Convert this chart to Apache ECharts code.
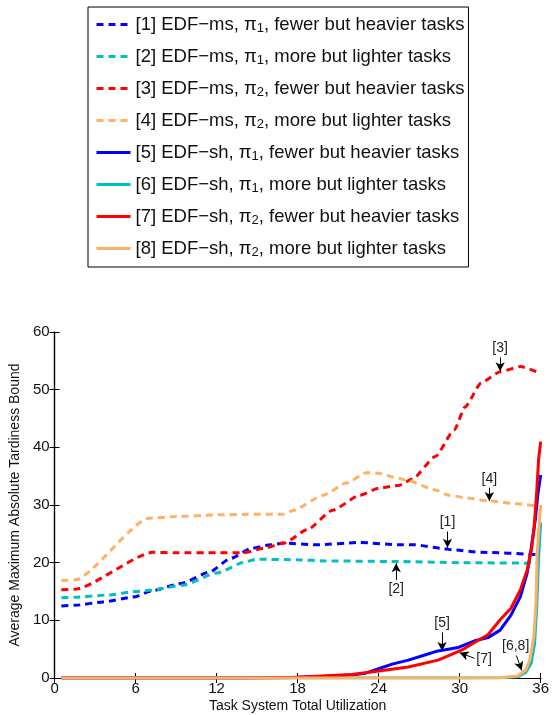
<!DOCTYPE html>
<html>
<head>
<meta charset="utf-8">
<script src="https://cdn.jsdelivr.net/npm/echarts@6/dist/echarts.min.js"></script>
<style>
  html, body { margin: 0; padding: 0; background: #fff; }
  #chart { width: 552px; height: 715px; }
</style>
</head>
<body>
<div id="chart"></div>
<script>
const FONT = 'Liberation Sans, Arial, Helvetica, sans-serif'

const seriesNames = [
  '[1] EDF−ms, π1, fewer but heavier tasks',
  '[2] EDF−ms, π1, more but lighter tasks',
  '[3] EDF−ms, π2, fewer but heavier tasks',
  '[4] EDF−ms, π2, more but lighter tasks',
  '[5] EDF−sh, π1, fewer but heavier tasks',
  '[6] EDF−sh, π1, more but lighter tasks',
  '[7] EDF−sh, π2, fewer but heavier tasks',
  '[8] EDF−sh, π2, more but lighter tasks'
]
const seriesColors = ['#0000ff', '#00bfbf', '#ff0000', '#ffb063', '#0000ff', '#00bfbf', '#ff0000', '#ffb063']

const xTicks = [0, 6, 12, 18, 24, 30, 36]
const yTicks = [0, 10, 20, 30, 40, 50, 60]

// EDF-ms (dashed)
const ms1X = [0.5, 1.5, 3.6, 6, 7, 9.4, 11.5, 13, 14.6, 16, 17, 19.4, 22.6, 25.5, 26.7, 28.6, 29.6, 31.6, 35.7]
const ms1Y = [12.5, 12.6, 13.2, 14.1, 15.0, 16.4, 18.4, 20.7, 22.5, 23.1, 23.4, 23.1, 23.5, 23.1, 23.1, 22.5, 22.2, 21.8, 21.4]
const ms2X = [0.5, 1.5, 4, 6, 7, 9.5, 12, 14.2, 15, 18, 20, 25.5, 30, 35.7]
const ms2Y = [13.9, 14.0, 14.4, 15.0, 15.2, 16.1, 18.2, 20.2, 20.6, 20.5, 20.3, 20.2, 20.0, 19.9]
const ms3X = [0.5, 1.5, 7.3, 9, 12, 14, 15.5, 17, 18.7, 20.6, 22.6, 24, 25.5, 26.5, 28.2, 29.6, 30.4, 31.6, 33, 34.5, 35.7]
const ms3Y = [15.3, 15.4, 21.8, 21.7, 21.7, 21.7, 22.5, 23.4, 25.7, 29.1, 31.7, 32.9, 33.4, 34.5, 38.4, 43.0, 47.0, 51.2, 53.1, 54.0, 53.1]
const ms4X = [0.5, 1.5, 7, 9, 12, 15, 17, 17.7, 19.9, 21.6, 23.1, 24, 25.5, 26.2, 28.2, 29.2, 30.6, 32.2, 34.3, 35.7]
const ms4Y = [16.9, 17.0, 27.7, 28.0, 28.3, 28.4, 28.4, 29.1, 31.7, 33.8, 35.6, 35.5, 34.6, 34.2, 32.6, 31.7, 31.2, 30.7, 30.2, 29.8]

// EDF-sh (solid)
const sh5X = [0.5, 14, 17, 20, 22, 23, 24, 25, 26.2, 27.3, 28.4, 29.9, 31.2, 32.1, 33.0, 33.8, 34.5, 35.0, 35.3, 35.6, 35.8, 36]
const sh5Y = [0, 0, 0.05, 0.3, 0.5, 0.8, 1.6, 2.4, 3.1, 3.9, 4.7, 5.3, 6.5, 7.0, 8.3, 10.9, 14.1, 18.2, 22.5, 27.4, 32.0, 35.2]
const sh6X = [0.5, 30, 33, 34.3, 34.9, 35.3, 35.55, 35.7, 35.85, 36]
const sh6Y = [0, 0, 0.05, 0.2, 1.0, 2.6, 6.0, 12.0, 21.0, 27.0]
const sh7X = [0.5, 14, 18, 22, 24, 26.2, 28.4, 29.5, 30.2, 31.2, 32.1, 33.0, 33.8, 34.5, 35.0, 35.3, 35.5, 35.7, 35.85, 36]
const sh7Y = [0, 0, 0.15, 0.6, 1.2, 1.9, 3.1, 4.2, 4.9, 6.3, 7.5, 10.1, 12.1, 15.3, 18.7, 22.0, 25.7, 32.0, 38.0, 41.0]
const sh8X = [0.5, 30, 33, 34.3, 34.9, 35.2, 35.5, 35.65, 35.75, 36]
const sh8Y = [0, 0, 0.05, 0.35, 1.4, 3.1, 7.2, 13.0, 22.0, 30.0]

// annotations: label, arrow tail [x, y], arrow tip [x, y]
const noteLabels = ['[3]', '[4]', '[1]', '[2]', '[5]', '[7]', '[6,8]']
const noteTails = [[33.0, 55.6], [32.2, 33.0], [29.1, 25.4], [25.3, 17.0], [28.7, 7.9], [31.1, 3.4], [34.2, 3.9]]
const noteTips = [[33.0, 53.2], [32.2, 30.7], [29.1, 22.6], [25.3, 19.9], [28.7, 4.7], [30.0, 4.4], [34.6, 1.3]]

const xs = [ms1X, ms2X, ms3X, ms4X, sh5X, sh6X, sh7X, sh8X]
const ys = [ms1Y, ms2Y, ms3Y, ms4Y, sh5Y, sh6Y, sh7Y, sh8Y]

const chart = echarts.init(document.getElementById('chart'))

let series = seriesNames.map((name, i) => ({
  name: name,
  type: 'line',
  data: xs[i].map((x, k) => [x, ys[i][k]]),
  symbol: 'none',
  smooth: i < 4 ? 0.2 : false,
  smoothMonotone: 'x',
  lineStyle: {
    color: seriesColors[i],
    width: 3,
    type: i < 4 ? [7, 5] : 'solid'
  },
  itemStyle: { color: seriesColors[i] },
  z: 2 + i
}))

series.push({
  name: 'notes',
  type: 'line',
  data: [],
  silent: true,
  z: 20,
  markLine: {
    silent: true,
    symbol: ['none', 'arrow'],
    symbolSize: [7, 9],
    lineStyle: { color: '#000', width: 1, type: 'solid' },
    label: {
      show: true,
      position: 'start',
      distance: 2,
      color: '#222',
      fontFamily: FONT,
      fontSize: 14
    },
    data: noteLabels.map((t, i) => [
      { coord: noteTails[i], label: { formatter: t } },
      { coord: noteTips[i] }
    ])
  }
})

const axisCommon = {
  type: 'value',
  axisLine: { show: true, lineStyle: { color: '#000', width: 1.2 } },
  axisTick: { show: true, inside: true, length: 5, lineStyle: { color: '#000' } },
  splitLine: { show: false }
}

let option = {
  animation: false,
  backgroundColor: '#fff',
  legend: {
    data: seriesNames,
    orient: 'vertical',
    left: 88,
    top: 7,
    padding: [7, 4, 8, 7],
    itemGap: 11,
    itemWidth: 34,
    itemHeight: 14,
    borderColor: '#000',
    borderWidth: 1,
    backgroundColor: '#fff',
    itemStyle: { opacity: 0 },
    lineStyle: { width: 3 },
    formatter: name => name.replace(/π(\d)/, 'π{sub|$1}'),
    textStyle: {
      color: '#111',
      fontFamily: FONT,
      fontSize: 18.5,
      lineHeight: 21,
      rich: {
        sub: { fontFamily: FONT, fontSize: 13, lineHeight: 13, padding: [8, 0, 0, 0], color: '#111' }
      }
    }
  },
  grid: { left: 50, right: 8, top: 332, bottom: 37 },
  xAxis: [
    Object.assign({}, axisCommon, {
      min: 0, max: 36, interval: 6,
      name: 'Task System Total Utilization',
      nameLocation: 'middle',
      nameGap: 21,
      nameTextStyle: { color: '#111', fontFamily: FONT, fontSize: 14 },
      axisLabel: {
        color: '#111', fontFamily: FONT, fontSize: 15, margin: 3,
        formatter: v => xTicks.includes(v) ? String(v) : ''
      }
    }),
    Object.assign({}, axisCommon, {
      position: 'top', min: 0, max: 36, interval: 6,
      axisLabel: { show: false }
    })
  ],
  yAxis: [
    Object.assign({}, axisCommon, {
      min: 0, max: 60, interval: 10,
      name: 'Average Maximum Absolute Tardiness Bound',
      nameLocation: 'middle',
      nameGap: 20,
      nameTextStyle: { color: '#111', fontFamily: FONT, fontSize: 14 },
      axisLabel: {
        color: '#111', fontFamily: FONT, fontSize: 15, margin: 5,
        formatter: v => yTicks.includes(v) ? String(v) : ''
      }
    }),
    Object.assign({}, axisCommon, {
      position: 'right', min: 0, max: 60, interval: 10,
      axisLabel: { show: false }
    })
  ],
  series: series
}

chart.setOption(option)
</script>
</body>
</html>
